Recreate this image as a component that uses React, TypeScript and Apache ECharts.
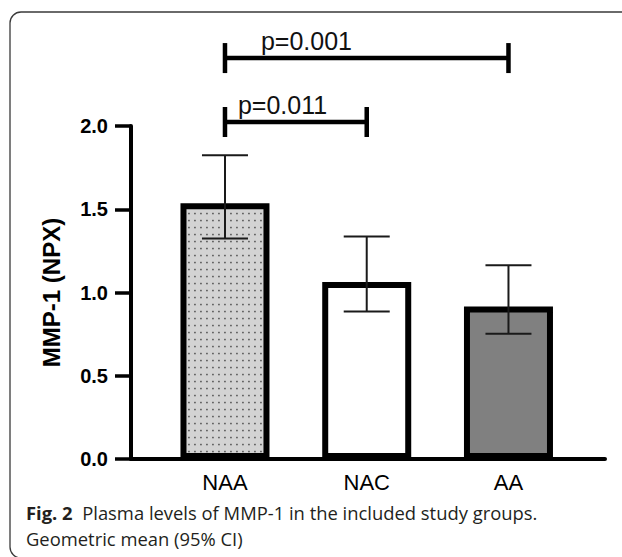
import React, { useEffect, useRef } from "react";
import * as echarts from "echarts";

const categories = ["NAA", "NAC", "AA"];
const means = [1.536, 1.063, 0.916];
const ciLow = [1.325, 0.886, 0.753];
const ciHigh = [1.825, 1.337, 1.163];
const yTicks = [0, 0.5, 1.0, 1.5, 2.0];
const brackets = [
  { from: 0, to: 2, level: 2.408, label: "p=0.001" },
  { from: 0, to: 1, level: 2.024, label: "p=0.011" },
];
const bracketLabelX = [0.575, 0.406];
const captionBold = "Fig. 2";
const captionLine1 = "Plasma levels of MMP-1 in the included study groups.";
const captionLine2 = "Geometric mean (95% CI)";

const dotSvg =
  "data:image/svg+xml;charset=utf-8," +
  encodeURIComponent(
    '<svg xmlns="http://www.w3.org/2000/svg" width="6" height="7"><rect width="6" height="7" fill="#d3d3d3"/><rect x="2.2" y="2.8" width="1.5" height="1.5" fill="#4a4a4a"/></svg>'
  );

export default function App() {
  const ref = useRef<HTMLDivElement>(null);
  useEffect(() => {
    if (!ref.current) return;
    const chart = echarts.init(ref.current, null, { renderer: "svg" });
    const fills: any[] = [
      { image: dotSvg, repeat: "repeat", imageWidth: 6, imageHeight: 7 },
      "#ffffff",
      "#808080",
    ];
    const font = "'Liberation Sans', Arial, sans-serif";
    chart.setOption({
      animation: false,
      backgroundColor: "#ffffff",
      grid: { left: 131, top: 126, width: 474, height: 333, containLabel: false },
      xAxis: {
        type: "value",
        min: -0.663,
        max: 2.681,
        splitLine: { show: false },
        axisLine: { show: true, onZero: false, lineStyle: { color: "#000", width: 4 } },
        axisTick: { show: false },
        axisLabel: {
          customValues: [0, 1, 2],
          formatter: (v: number) => categories[Math.round(v)] ?? "",
          fontFamily: font,
          fontSize: 22,
          color: "#000",
          margin: 12,
        },
      },
      yAxis: {
        type: "value",
        min: 0,
        max: 2,
        interval: 0.5,
        name: "MMP-1 (NPX)",
        nameLocation: "middle",
        nameGap: 68,
        nameTextStyle: { fontFamily: font, fontSize: 24, fontWeight: "bold", color: "#000" },
        splitLine: { show: false },
        axisLine: { show: true, onZero: false, lineStyle: { color: "#000", width: 4 } },
        axisTick: { show: true, customValues: yTicks, length: 16, lineStyle: { color: "#000", width: 3.5 } },
        axisLabel: {
          customValues: yTicks,
          formatter: (v: number) => v.toFixed(1),
          fontFamily: font,
          fontSize: 20,
          fontWeight: "bold",
          color: "#000",
          margin: 23,
        },
      },
      series: [
        {
          type: "bar",
          barWidth: 89,
          z: 2,
          data: categories.map((c, i) => ({
            value: [i, means[i]],
            itemStyle: { color: fills[i], borderColor: "#000", borderWidth: 6 },
          })),
        },
        {
          type: "custom",
          z: 5,
          clip: false,
          encode: { x: 0, y: [1, 2] },
          data: categories.map((c, i) => [i, ciLow[i], ciHigh[i]]),
          renderItem: (params: any, api: any) => {
            const x = api.value(0);
            const pHi = api.coord([x, api.value(2)]);
            const pLo = api.coord([x, api.value(1)]);
            const hw = 23;
            const st = { stroke: "#1a1a1a", lineWidth: 2 };
            return {
              type: "group",
              children: [
                { type: "line", shape: { x1: pHi[0], y1: pHi[1], x2: pLo[0], y2: pLo[1] }, style: st },
                { type: "line", shape: { x1: pHi[0] - hw, y1: pHi[1], x2: pHi[0] + hw, y2: pHi[1] }, style: st },
                { type: "line", shape: { x1: pLo[0] - hw, y1: pLo[1], x2: pLo[0] + hw, y2: pLo[1] }, style: st },
              ],
            };
          },
        },
        {
          type: "custom",
          z: 6,
          clip: false,
          encode: { x: [0, 1], y: 2 },
          data: brackets.map((b) => [b.from, b.to, b.level]),
          renderItem: (params: any, api: any) => {
            const i = params.dataIndex;
            const p1 = api.coord([api.value(0), api.value(2)]);
            const p2 = api.coord([api.value(1), api.value(2)]);
            const pl = api.coord([bracketLabelX[i], api.value(2)]);
            const th = 15;
            const st = { stroke: "#000", lineWidth: 4.5 };
            return {
              type: "group",
              children: [
                { type: "line", shape: { x1: p1[0], y1: p1[1], x2: p2[0], y2: p2[1] }, style: st },
                { type: "line", shape: { x1: p1[0], y1: p1[1] - th, x2: p1[0], y2: p1[1] + th }, style: st },
                { type: "line", shape: { x1: p2[0], y1: p2[1] - th, x2: p2[0], y2: p2[1] + th }, style: st },
                {
                  type: "text",
                  style: {
                    text: brackets[i].label,
                    x: pl[0],
                    y: pl[1] - 17,
                    font: "25px 'Liberation Sans', Arial, sans-serif",
                    fill: "#111",
                    textAlign: "center",
                    textVerticalAlign: "middle",
                  },
                },
              ],
            };
          },
        },
      ],
      graphic: [
        {
          type: "rect",
          z: -10,
          shape: { x: 10, y: 12, width: 640, height: 546, r: 11 },
          style: { fill: "none", stroke: "#3a3a3a", lineWidth: 1.3 },
        },
        {
          type: "text",
          x: 26,
          y: 512,
          style: {
            text: "{b|" + captionBold + "}  " + captionLine1,
            font: "18.4px 'Open Sans', sans-serif",
            fill: "#231f20",
            textVerticalAlign: "middle",
            rich: {
              b: { fontWeight: "bold", fontSize: 18.4, fontFamily: "'Open Sans', sans-serif", fill: "#231f20" },
            },
          },
        },
        {
          type: "text",
          x: 26,
          y: 538,
          style: {
            text: captionLine2,
            font: "18.4px 'Open Sans', sans-serif",
            fill: "#231f20",
            textVerticalAlign: "middle",
          },
        },
      ],
    });
    return () => chart.dispose();
  }, []);
  return <div ref={ref} style={{ width: 622, height: 557, position: "absolute", left: 0, top: 0 }} />;
}
